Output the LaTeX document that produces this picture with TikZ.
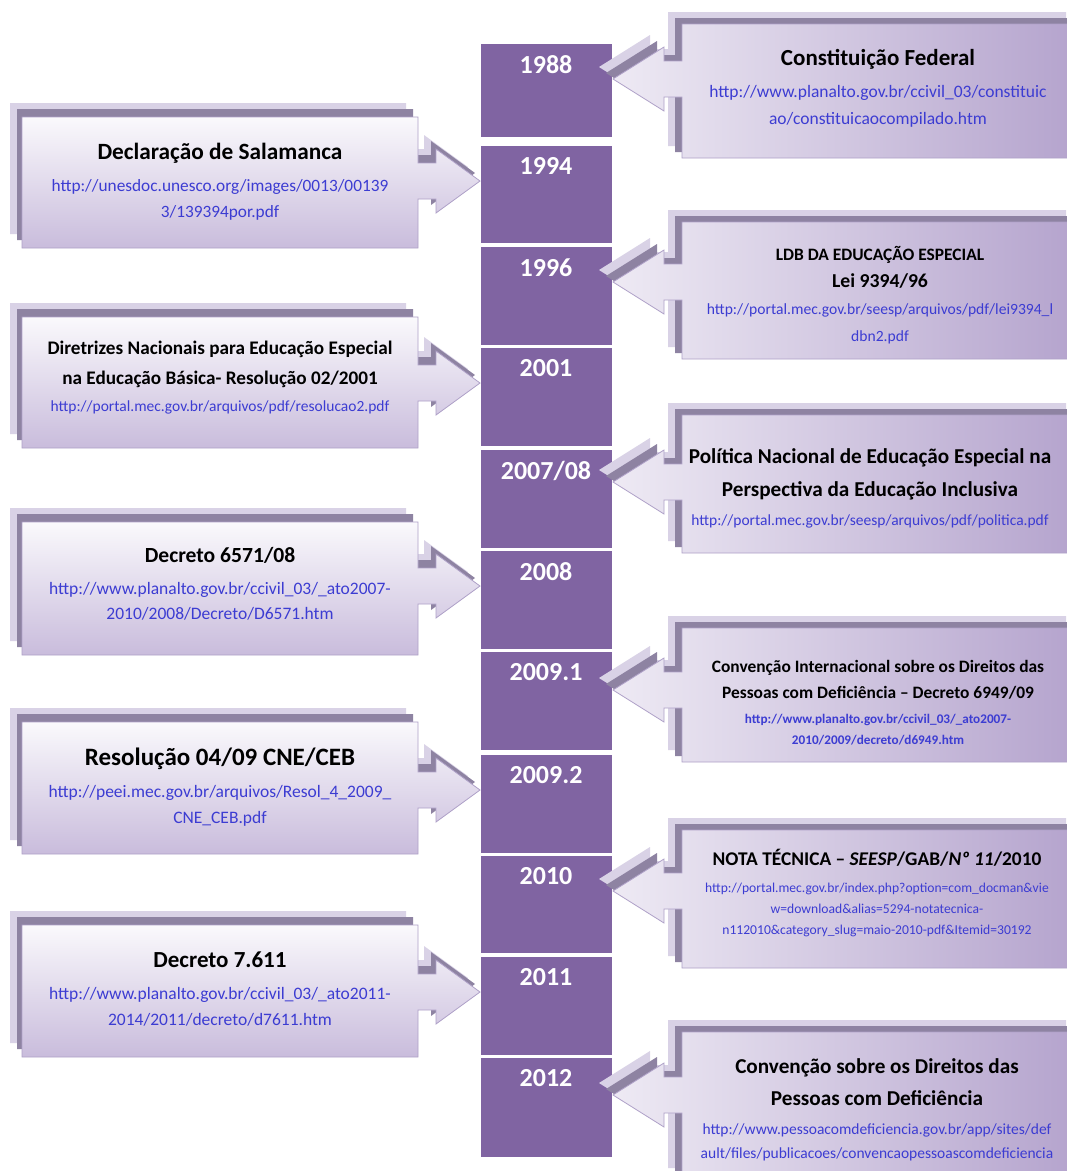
\documentclass[tikz,border=0pt]{standalone}
\usepackage{fontspec}
\setmainfont{Carlito}

\definecolor{yearfill}{HTML}{8064A2}
\definecolor{layerlight}{HTML}{D9D2E6}
\definecolor{layerdark}{HTML}{8E83A2}
\definecolor{frontedge}{HTML}{AFA1C8}
\definecolor{fronttop}{HTML}{FAF9FC}
\definecolor{frontlow}{HTML}{C9BCDC}
\definecolor{rightlight}{HTML}{EEEAF4}
\definecolor{rightdeep}{HTML}{B4A3CD}
\definecolor{linkblue}{HTML}{3C3CD2}

\newcommand{\notetitle}[2]{{\color{black}\fontsize{#1}{#1}\selectfont\bfseries #2}}

\tikzset{
  yearbox/.style={fill=yearfill, minimum width=131pt, inner sep=0pt, anchor=north},
  yeartext/.style={text=white, font=\fontsize{26}{30}\selectfont\bfseries, anchor=north, yshift=-8pt},
  note/.style={align=center, inner sep=0pt, text=linkblue},
  leftshape/.style n args={3}{insert path={(22,#1) -- (418,#1) -- (418,#3-18) -- (436,#3-18) -- (436,#3-32) -- (480,#3) -- (436,#3+32) -- (436,#3+18) -- (418,#3+18) -- (418,#2) -- (22,#2) -- cycle}},
  rightshape/.style n args={3}{insert path={(1080,#1) -- (1080,#2) -- (682,#2) -- (682,#3+18) -- (664,#3+18) -- (664,#3+32) -- (613,#3) -- (664,#3-32) -- (664,#3-18) -- (682,#3-18) -- (682,#1) -- cycle}},
}

% top, bottom, tip
\newcommand{\leftcallout}[3]{%
  \fill[layerlight, shift={(-12,-14)}, leftshape={#1}{#2}{#3}];
  \fill[layerdark, shift={(-5,-8)}, leftshape={#1}{#2}{#3}];
  \draw[frontedge, line width=0.8pt, top color=fronttop, bottom color=frontlow, leftshape={#1}{#2}{#3}];
}
\newcommand{\rightcallout}[3]{%
  \fill[layerlight, shift={(-14,-12)}, rightshape={#1}{#2}{#3}];
  \fill[layerdark, shift={(-7,-6)}, rightshape={#1}{#2}{#3}];
  \draw[frontedge, line width=0.8pt, left color=rightlight, right color=rightdeep, rightshape={#1}{#2}{#3}];
}

\begin{document}
\begin{tikzpicture}[x=1pt,y=-1pt]
\useasboundingbox (0,0) rectangle (1067,1171);
\clip (0,0) rectangle (1067,1171);
\fill[white] (0,0) rectangle (1067,1171);

% the years
\foreach \yr/\ytop/\hgt/\nm in {1988/44/93/y1988, 1994/146/97/y1994, 1996/247/98/y1996, 2001/348/98/y2001,
    {2007/08}/450/98/y2007, 2008/551/98/y2008, 2009.1/652/98/y2009a, 2009.2/755/98/y2009b,
    2010/856/97/y2010, 2011/957/98/y2011, 2012/1058/99/y2012}
  \node[yearbox, minimum height=\hgt, label={[yeartext]90:\yr}] (\nm) at (546,\ytop) {};

% left side
\leftcallout{117}{248}{181}
\node[note, font=\fontsize{17.3}{26}\selectfont] (salamanca) at (220,182)
  {\notetitle{23.3}{Declaração de Salamanca}\\[6pt]
   http://unesdoc.unesco.org/images/0013/00139\\ 3/139394por.pdf};

\leftcallout{317}{448}{383}
\node[note, font=\fontsize{15.5}{27}\selectfont] (diretrizes) at (220,378)
  {\notetitle{19.2}{Diretrizes Nacionais para Educação Especial}\\[3pt]
   \notetitle{19.2}{na Educação Básica- Resolução 02/2001}\\
   http://portal.mec.gov.br/arquivos/pdf/resolucao2.pdf};

\leftcallout{522}{655}{586}
\node[note, font=\fontsize{17.5}{25}\selectfont] (decreto6571) at (220,584)
  {\notetitle{21.6}{Decreto 6571/08}\\[7pt]
   http://www.planalto.gov.br/ccivil\_03/\_ato2007-\\ 2010/2008/Decreto/D6571.htm};

\leftcallout{722}{854}{790}
\node[note, font=\fontsize{17.5}{26}\selectfont] (resolucao) at (220,787)
  {\notetitle{25}{Resolução 04/09 CNE/CEB}\\[6pt]
   http://peei.mec.gov.br/arquivos/Resol\_4\_2009\_\\ CNE\_CEB.pdf};

\leftcallout{925}{1057}{992}
\node[note, font=\fontsize{17.5}{26}\selectfont] (decreto7611) at (220,989)
  {\notetitle{23}{Decreto 7.611}\\[6pt]
   http://www.planalto.gov.br/ccivil\_03/\_ato2011-\\ 2014/2011/decreto/d7611.htm};

% right side
\rightcallout{24}{158}{79}
\node[note, font=\fontsize{17.5}{27}\selectfont] (constituicao) at (878,88)
  {\notetitle{23}{Constituição Federal}\\[5pt]
   http://www.planalto.gov.br/ccivil\_03/constituic\\ ao/constituicaocompilado.htm};

\rightcallout{222}{359}{282}
\node[note, font=\fontsize{15.6}{27}\selectfont] (ldb) at (880,295)
  {\notetitle{17.4}{LDB DA EDUCAÇÃO ESPECIAL}\\
   \notetitle{19.7}{Lei 9394/96}\\
   http://portal.mec.gov.br/seesp/arquivos/pdf/lei9394\_l\\ dbn2.pdf};

\rightcallout{415}{553}{482}
\node[note, font=\fontsize{15.5}{29}\selectfont] (politica) at (870,488)
  {\notetitle{21.2}{Política Nacional de Educação Especial na}\\[4pt]
   \notetitle{21.2}{Perspectiva da Educação Inclusiva}\\
   http://portal.mec.gov.br/seesp/arquivos/pdf/politica.pdf};

\rightcallout{628}{762}{690}
\node[note, font=\fontsize{13.2}{21}\selectfont\bfseries] (convencaoint) at (878,703)
  {\notetitle{17.4}{Convenção Internacional sobre os Direitos das}\\[5pt]
   \notetitle{17.4}{Pessoas com Deficiência – Decreto 6949/09}\\[4pt]
   http://www.planalto.gov.br/ccivil\_03/\_ato2007-\\ 2010/2009/decreto/d6949.htm};

\rightcallout{830}{968}{891}
\node[note, font=\fontsize{13.6}{21}\selectfont] (notatecnica) at (877,893)
  {\notetitle{19.4}{NOTA TÉCNICA – \textit{SEESP}/GAB/\textit{Nº 11}/2010}\\[6pt]
   http://portal.mec.gov.br/index.php?option=com\_docman\&vie\\
   w=download\&alias=5294-notatecnica-\\
   n112010\&category\_slug=maio-2010-pdf\&Itemid=30192};

\rightcallout{1032}{1180}{1095}
\node[note, font=\fontsize{15.5}{24}\selectfont] (convencao) at (877,1110)
  {\notetitle{21.2}{Convenção sobre os Direitos das}\\[8pt]
   \notetitle{21.2}{Pessoas com Deficiência}\\[5pt]
   http://www.pessoacomdeficiencia.gov.br/app/sites/def\\
   ault/files/publicacoes/convencaopessoascomdeficiencia};
\end{tikzpicture}
\end{document}
